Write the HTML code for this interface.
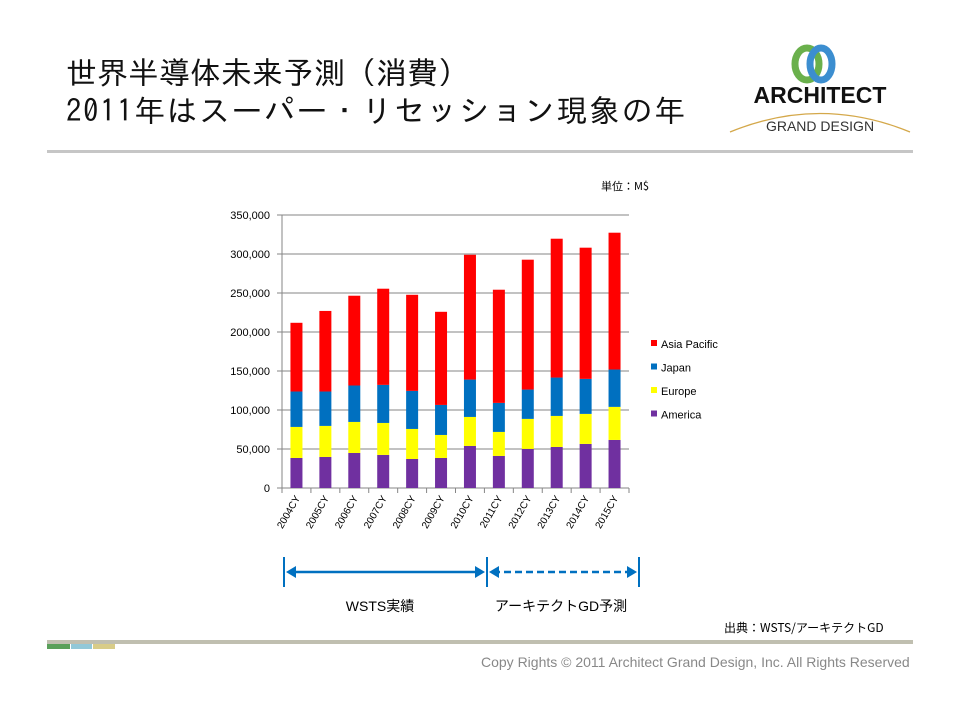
<!DOCTYPE html>
<html><head><meta charset="utf-8"><style>
body{margin:0;width:960px;height:720px;background:#fff;position:relative;overflow:hidden;font-family:"Liberation Sans","Noto Sans CJK JP",sans-serif}
.abs{position:absolute}
</style></head><body>
<div class="abs" style="left:66px;top:54px;font-size:31px;line-height:38px;color:#111;font-family:'IPAGothic','Noto Sans CJK JP',sans-serif;white-space:nowrap">世界半導体未来予測（消費）<br><span style="letter-spacing:1.5px">2011年はスーパー・リセッション現象の年</span></div>
<div class="abs" style="left:725px;top:40px;width:190px;height:100px">
<svg width="190" height="100"><ellipse cx="82" cy="24" rx="12" ry="16" fill="none" stroke="#6ab04c" stroke-width="7"/><ellipse cx="96" cy="24" rx="11" ry="16" fill="none" stroke="#3c8ed0" stroke-width="7"/>
<text x="95" y="63" text-anchor="middle" font-family="Liberation Sans" font-weight="bold" font-size="23" fill="#111">ARCHITECT</text>
<path d="M5 92 Q95 55 185 92" fill="none" stroke="#d4a84a" stroke-width="1.3"/>
<text x="95" y="91" text-anchor="middle" font-family="Liberation Sans" font-size="14" fill="#333">GRAND DESIGN</text></svg></div>
<div class="abs" style="left:47px;top:150px;width:866px;height:3px;background:#c6c6c6"></div>
<div class="abs" style="left:601px;top:178px;font-size:11px;font-family:'Noto Sans CJK JP',sans-serif">単位：M$</div>
<svg class="abs" style="left:0;top:0" width="960" height="720">
<g id="g"></g></svg>
<div class="abs" style="left:724px;top:619px;font-size:12px;font-family:'Noto Sans CJK JP',sans-serif">出典：WSTS/アーキテクトGD</div>
<div class="abs" style="left:47px;top:640px;width:866px;height:4px;background:#c0bfb0"></div>
<div class="abs" style="left:47px;top:644px;width:23px;height:5px;background:#5aa05a"></div>
<div class="abs" style="left:71px;top:644px;width:21px;height:5px;background:#92c8d8"></div>
<div class="abs" style="left:93px;top:644px;width:22px;height:5px;background:#d8cc88"></div>
<div class="abs" style="left:481px;top:654px;font-size:14px;color:#888;white-space:nowrap">Copy Rights © 2011 Architect Grand Design, Inc. All Rights Reserved</div>
<script>
const categories=["2004CY","2005CY","2006CY","2007CY","2008CY","2009CY","2010CY","2011CY","2012CY","2013CY","2014CY","2015CY"];
const america=[38.5,39.8,44.9,42.4,37.2,38.5,53.9,41.1,50.1,52.6,56.5,61.6].map(v=>v*1000);
const europe=[39.8,39.8,39.8,41.0,38.5,29.5,37.2,30.8,38.5,39.8,38.5,42.4].map(v=>v*1000);
const japan=[45.4,44.1,46.7,48.8,48.8,38.5,47.9,37.2,37.6,49.2,44.9,47.9].map(v=>v*1000);
const asiaPacific=[88.1,103.3,115.1,123.3,123.2,119.4,160.0,145.1,166.5,178.0,168.2,175.4].map(v=>v*1000);
const yTicks=[0,50000,100000,150000,200000,250000,300000,350000];
const seriesNames=["America","Europe","Japan","Asia Pacific"];
const colors=["#7030a0","#ffff00","#0070c0","#ff0000"];
const NS="http://www.w3.org/2000/svg",g=document.getElementById('g');
const X0=282,X1=629,Y0=488,Y1=215,YMAX=350000;
const bw=(X1-X0)/categories.length;
const y=v=>Y0-(v/YMAX)*(Y0-Y1);
function mk(t,a){const e=document.createElementNS(NS,t);for(const k in a)e.setAttribute(k,a[k]);g.appendChild(e);return e;}
yTicks.forEach(t=>{const l=mk('line',{x1:X0-5,x2:X1,y1:y(t),y2:y(t),stroke:'#868686','stroke-width':1});


const tx=mk('text',{x:X0-12,y:y(t)+4,'text-anchor':'end','font-size':11,'font-family':'Liberation Sans'});tx.textContent=t.toLocaleString('en-US');

});
mk('line',{x1:X0,x2:X0,y1:Y1,y2:Y0,stroke:'#868686'});
const series=[america,europe,japan,asiaPacific];
categories.forEach((c,i)=>{let acc=0;const cx=X0+bw*(i+0.5);
series.forEach((s,k)=>{const r=mk('rect',{x:cx-6,y:y(acc+s[i]),width:12,height:y(acc)-y(acc+s[i]),fill:colors[k]});

acc+=s[i];});
mk('line',{x1:X0+bw*(i+1),x2:X0+bw*(i+1),y1:Y0,y2:Y0+5,stroke:'#868686'});
const t=mk('text',{transform:`translate(${cx+4},${Y0+10}) rotate(-60)`,'text-anchor':'end','font-size':10,'font-family':'Liberation Sans'});t.textContent=c;

});
mk('line',{x1:X0,x2:X0,y1:Y0,y2:Y0+5,stroke:'#868686'});
[3,2,1,0].forEach((k,j)=>{const yy=344+j*23.5;mk('rect',{x:651,y:yy-4,width:6,height:6,fill:colors[k]});
const t=mk('text',{x:661,y:yy+4,'font-size':11,'font-family':'Liberation Sans'});t.textContent=seriesNames[k];

});
const B='#0070c0';
mk('line',{x1:284,x2:284,y1:557,y2:587,stroke:B,'stroke-width':2});
mk('line',{x1:487,x2:487,y1:557,y2:587,stroke:B,'stroke-width':2});
mk('line',{x1:639,x2:639,y1:557,y2:587,stroke:B,'stroke-width':2});
mk('line',{x1:290,x2:481,y1:572,y2:572,stroke:B,'stroke-width':2.5});
mk('line',{x1:493,x2:633,y1:572,y2:572,stroke:B,'stroke-width':2.5,'stroke-dasharray':'7 4'});
[[286,1],[485,-1],[489,1],[637,-1]].forEach(([x,d])=>mk('path',{d:`M${x} 572 L${x+d*10} 566 L${x+d*10} 578Z`,fill:B}));
const a=mk('text',{x:380,y:611,'text-anchor':'middle','font-size':14,'font-family':'Liberation Sans,Noto Sans CJK JP'});a.textContent='WSTS実績';
const b=mk('text',{x:561,y:611,'text-anchor':'middle','font-size':14,'font-family':'Liberation Sans,Noto Sans CJK JP'});b.textContent='アーキテクトGD予測';
</script>
</body></html>
